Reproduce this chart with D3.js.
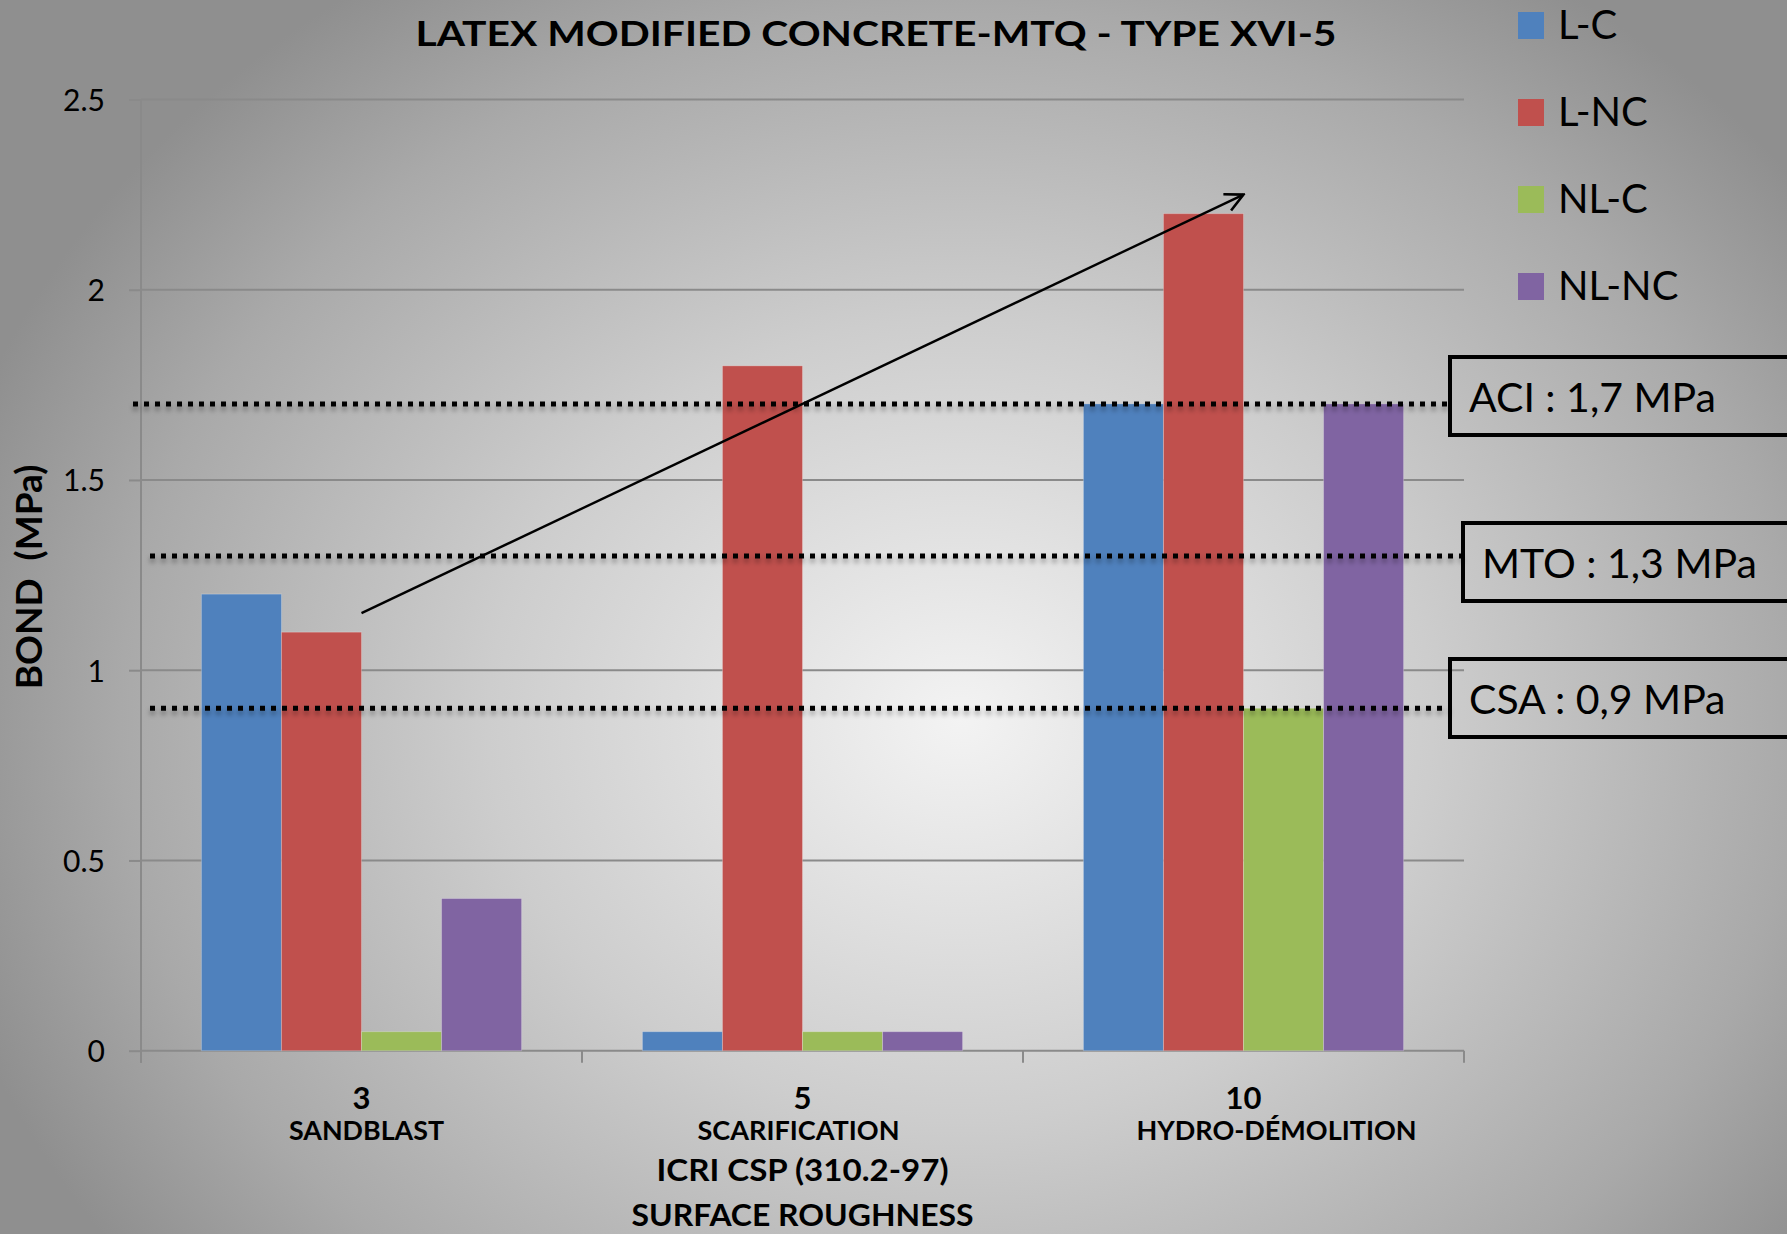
<!DOCTYPE html>
<html>
<head>
<meta charset="utf-8">
<script src="https://cdn.jsdelivr.net/npm/d3@7"></script>
<style>
  html, body { margin: 0; padding: 0; }
  body { width: 1787px; height: 1234px; overflow: hidden; }
  svg { display: block; font-family: Lato, "Open Sans", sans-serif; }
</style>
</head>
<body>
<svg id="chart" width="1787" height="1234"></svg>
<script>
// ---- data ----
const categories = ["3", "5", "10"];
const categoryNames = ["SANDBLAST", "SCARIFICATION", "HYDRO-DÉMOLITION"];
const seriesNames = ["L-C", "L-NC", "NL-C", "NL-NC"];
const seriesColors = ["#4f81bd", "#c0504d", "#9bbb59", "#8064a2"];
const valuesLC   = [1.2, 0.05, 1.7];
const valuesLNC  = [1.1, 1.8, 2.2];
const valuesNLC  = [0.05, 0.05, 0.9];
const valuesNLNC = [0.4, 0.05, 1.7];
const yTicks = [0, 0.5, 1, 1.5, 2, 2.5];
const yTickLabels = ["0", "0.5", "1", "1.5", "2", "2.5"];
const thresholdNames = ["ACI", "MTO", "CSA"];
const thresholdValues = [1.7, 1.3, 0.9];
const thresholdLabels = ["ACI : 1,7 MPa", "MTO : 1,3 MPa", "CSA : 0,9 MPa"];
// trend arrow: from group "3" to group "10"
const trendFrom = ["3", 1.15];
const trendTo = ["10", 2.25];

const series = [valuesLC, valuesLNC, valuesNLC, valuesNLNC];

// ---- layout ----
const W = 1787, H = 1234;
const plot = { left: 141, right: 1464, top: 99.5, bottom: 1050.7 };

const svg = d3.select("#chart");
const defs = svg.append("defs");

// background gradient
const bg = defs.append("radialGradient")
  .attr("id", "bg").attr("gradientUnits", "userSpaceOnUse")
  .attr("cx", 960).attr("cy", 720).attr("r", 1050)
  .attr("gradientTransform", "translate(960,720) scale(1,0.85) translate(-960,-720)");
bg.append("stop").attr("offset", "0").attr("stop-color", "#f3f3f3");
bg.append("stop").attr("offset", "0.45").attr("stop-color", "#cdcdcd");
bg.append("stop").attr("offset", "0.8").attr("stop-color", "#a9a9a9");
bg.append("stop").attr("offset", "1").attr("stop-color", "#8f8f8f");
svg.append("rect").attr("width", W).attr("height", H).attr("fill", "url(#bg)");

// soft shadow under the dotted reference lines
const sh = defs.append("filter").attr("id", "shadow")
  .attr("filterUnits", "userSpaceOnUse")
  .attr("x", 0).attr("y", 0).attr("width", W).attr("height", H);
sh.append("feDropShadow").attr("dx", 0).attr("dy", 4).attr("stdDeviation", 2.5)
  .attr("flood-color", "#000").attr("flood-opacity", 0.35);

// open arrow head
defs.append("marker").attr("id", "arrowhead")
  .attr("viewBox", "0 0 22 22").attr("refX", 20).attr("refY", 11)
  .attr("markerWidth", 22).attr("markerHeight", 22)
  .attr("markerUnits", "userSpaceOnUse").attr("orient", "auto")
  .append("path").attr("d", "M2,2 L20,11 L2,20")
  .attr("fill", "none").attr("stroke", "#000").attr("stroke-width", 2.6);

// ---- scales ----
const x0 = d3.scaleBand().domain(categories).range([plot.left, plot.right]).padding(0);
const groupWidth = x0.bandwidth() * 0.726;
const x1 = d3.scaleBand().domain(seriesNames).range([0, groupWidth]).padding(0);
const y = d3.scaleLinear().domain([0, 2.5]).range([plot.bottom, plot.top]);

// ---- gridlines and y axis ----
const yAxis = d3.axisLeft(y).tickValues(yTicks)
  .tickFormat((d, i) => yTickLabels[i])
  .tickSize(12).tickPadding(24);
const gy = svg.append("g").attr("transform", `translate(${plot.left},0)`).call(yAxis);
gy.select(".domain").remove();
gy.selectAll(".tick line").attr("stroke", "#8a8a8a").attr("stroke-width", 2);
gy.selectAll(".tick text").attr("font-size", 30).attr("fill", "#000")
  .attr("font-family", "Lato, sans-serif").attr("dy", "0.36em");

svg.append("g").selectAll("line").data(yTicks).join("line")
  .attr("x1", plot.left).attr("x2", plot.right)
  .attr("y1", d => y(d)).attr("y2", d => y(d))
  .attr("stroke", "#8a8a8a").attr("stroke-width", 2);

svg.append("line")
  .attr("x1", plot.left).attr("x2", plot.left)
  .attr("y1", plot.top).attr("y2", plot.bottom + 12)
  .attr("stroke", "#8a8a8a").attr("stroke-width", 2);

// x axis category ticks
const bounds = categories.map(c => x0(c)).concat([plot.right]);
svg.append("g").selectAll("line").data(bounds).join("line")
  .attr("x1", d => d).attr("x2", d => d)
  .attr("y1", plot.bottom).attr("y2", plot.bottom + 12)
  .attr("stroke", "#8a8a8a").attr("stroke-width", 2);

// ---- bars ----
const groups = svg.append("g").selectAll("g").data(categories).join("g")
  .attr("transform", c => `translate(${x0(c) + (x0.bandwidth() - groupWidth) / 2},0)`);
groups.selectAll("rect")
  .data((c, ci) => seriesNames.map((s, si) => ({ s, v: series[si][ci], color: seriesColors[si] })))
  .join("rect")
  .attr("x", d => x1(d.s)).attr("width", x1.bandwidth())
  .attr("y", d => y(d.v)).attr("height", d => y(0) - y(d.v))
  .attr("fill", d => d.color)
  .attr("stroke", "rgba(255,255,255,0.25)").attr("stroke-width", 1);

// ---- reference lines with labelled boxes ----
const lineStarts = [133, 150, 150];
const boxLefts = [1450, 1463, 1450];
const boxTops = [357, 523, 659];
const boxHeight = 78;
const ref = svg.append("g");
thresholdValues.forEach((v, i) => {
  const yy = y(v);
  ref.append("line")
    .attr("x1", lineStarts[i]).attr("x2", boxLefts[i])
    .attr("y1", yy).attr("y2", yy)
    .attr("stroke", "#000").attr("stroke-width", 5)
    .attr("stroke-dasharray", "5,6")
    .attr("filter", "url(#shadow)");
  ref.append("rect")
    .attr("x", boxLefts[i]).attr("y", boxTops[i])
    .attr("width", 400).attr("height", boxHeight)
    .attr("fill", "none").attr("stroke", "#000").attr("stroke-width", 4);
  ref.append("text")
    .attr("x", boxLefts[i] + 19).attr("y", boxTops[i] + 55)
    .attr("font-size", 41).attr("fill", "#000")
    .text(thresholdLabels[i]);
});

// ---- trend arrow ----
svg.append("line")
  .attr("x1", x0(trendFrom[0]) + x0.bandwidth() / 2).attr("y1", y(trendFrom[1]))
  .attr("x2", x0(trendTo[0]) + x0.bandwidth() / 2).attr("y2", y(trendTo[1]))
  .attr("stroke", "#000").attr("stroke-width", 2.4)
  .attr("marker-end", "url(#arrowhead)");

// ---- x labels ----
const nameShift = [5, -4, 33];
const nameWidths = [155, 202, 280];
const xl = svg.append("g").attr("font-weight", "bold").attr("text-anchor", "middle");
categories.forEach((c, i) => {
  const cx = x0(c) + x0.bandwidth() / 2;
  xl.append("text").attr("x", cx).attr("y", 1109).attr("font-size", 31).text(c);
  xl.append("text").attr("x", cx + nameShift[i]).attr("y", 1140).attr("font-size", 27)
    .attr("textLength", nameWidths[i]).attr("lengthAdjust", "spacingAndGlyphs")
    .text(categoryNames[i]);
});
const midX = (plot.left + plot.right) / 2;
xl.append("text").attr("x", midX).attr("y", 1181).attr("font-size", 31)
  .attr("textLength", 292).attr("lengthAdjust", "spacingAndGlyphs")
  .text("ICRI CSP (310.2-97)");
xl.append("text").attr("x", midX).attr("y", 1226).attr("font-size", 31)
  .attr("textLength", 342).attr("lengthAdjust", "spacingAndGlyphs")
  .text("SURFACE ROUGHNESS");

// ---- y title ----
svg.append("text")
  .attr("transform", "translate(42,577) rotate(-90)")
  .attr("text-anchor", "middle").attr("font-weight", "bold").attr("font-size", 37)
  .attr("xml:space", "preserve")
  .text("BOND  (MPa)");

// ---- title ----
svg.append("text")
  .attr("x", 876).attr("y", 46).attr("text-anchor", "middle")
  .attr("font-weight", "bold").attr("font-size", 34)
  .attr("textLength", 921).attr("lengthAdjust", "spacingAndGlyphs")
  .text("LATEX MODIFIED CONCRETE-MTQ - TYPE XVI-5");

// ---- legend ----
const lg = svg.append("g").attr("transform", "translate(1518,12)");
const items = lg.selectAll("g").data(seriesNames).join("g")
  .attr("transform", (d, i) => `translate(0,${i * 87})`);
items.append("rect").attr("width", 26).attr("height", 27)
  .attr("fill", (d, i) => seriesColors[i]);
items.append("text").attr("x", 40).attr("y", 27).attr("font-size", 40)
  .text(d => d);
</script>
</body>
</html>
